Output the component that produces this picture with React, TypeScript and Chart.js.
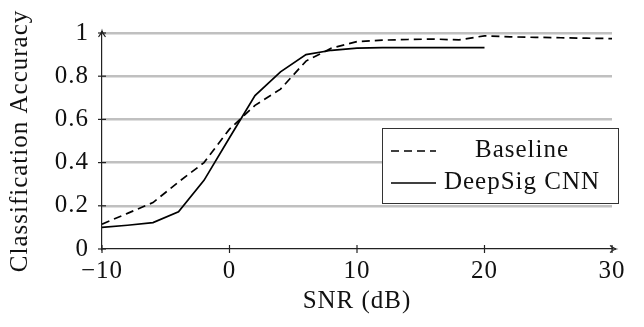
import React, { useEffect, useRef } from 'react';
import { Chart, registerables } from 'chart.js';

Chart.register(...registerables);

// ---- Data ----
const snrBaseline = [-10, -8, -6, -4, -2, 0, 2, 4, 6, 8, 10, 12, 14, 16, 18, 20, 22, 24, 26, 28, 30];
const accBaseline = [0.115, 0.165, 0.215, 0.31, 0.4, 0.555, 0.665, 0.74, 0.87, 0.93, 0.96, 0.967, 0.97, 0.972, 0.968, 0.987, 0.982, 0.98, 0.978, 0.976, 0.974];
const snrCnn = [-10, -8, -6, -4, -2, 0, 2, 4, 6, 8, 10, 12, 14, 16, 18, 20];
const accCnn = [0.1, 0.11, 0.122, 0.172, 0.318, 0.515, 0.71, 0.82, 0.9, 0.92, 0.93, 0.932, 0.932, 0.932, 0.932, 0.932];
const seriesLabels = ['Baseline', 'DeepSig CNN'];
const xTitle = 'SNR (dB)';
const yTitle = 'Classification Accuracy';
const xMin = -10, xMax = 30, xStep = 10;
const yMin = 0, yMax = 1, yStep = 0.2;

const FONT_FAMILY = '"Liberation Serif", "Times New Roman", serif';
const FONT_SIZE = 25;
const LETTER_SPACING = '1px';
const AXIS_COLOR = '#222';
const TEXT_COLOR = '#111';

const decorPlugin = {
  id: 'decor',
  beforeInit(chart: any) {
    (chart.ctx as any).letterSpacing = LETTER_SPACING;
  },
  beforeDraw(chart: any) {
    (chart.ctx as any).letterSpacing = LETTER_SPACING;
  },
  afterDatasetsDraw(chart: any) {
    const ctx = chart.ctx as CanvasRenderingContext2D;
    const xs = chart.scales.x;
    const ys = chart.scales.y;
    const ca = chart.chartArea;
    ctx.save();
    ctx.strokeStyle = AXIS_COLOR;
    ctx.fillStyle = AXIS_COLOR;
    ctx.lineWidth = 1.2;
    // tick marks crossing axes
    xs.ticks.forEach((t: any) => {
      const px = xs.getPixelForValue(t.value);
      ctx.beginPath();
      ctx.moveTo(px, ca.bottom - 4);
      ctx.lineTo(px, ca.bottom + 4);
      ctx.stroke();
    });
    ys.ticks.forEach((t: any) => {
      const py = ys.getPixelForValue(t.value);
      ctx.beginPath();
      ctx.moveTo(ca.left - 4, py);
      ctx.lineTo(ca.left + 4, py);
      ctx.stroke();
    });
    // axis extensions + arrowheads
    const tipX = ca.right + 4;
    ctx.beginPath();
    ctx.moveTo(ca.right, ca.bottom);
    ctx.lineTo(tipX, ca.bottom);
    ctx.stroke();
    ctx.beginPath();
    ctx.moveTo(tipX - 6, ca.bottom - 3.5);
    ctx.quadraticCurveTo(tipX - 2, ca.bottom - 0.5, tipX, ca.bottom);
    ctx.quadraticCurveTo(tipX - 2, ca.bottom + 0.5, tipX - 6, ca.bottom + 3.5);
    ctx.stroke();
    const tipY = ca.top - 2;
    ctx.beginPath();
    ctx.moveTo(ca.left, ca.top);
    ctx.lineTo(ca.left, tipY);
    ctx.stroke();
    ctx.beginPath();
    ctx.moveTo(ca.left - 3.5, tipY + 6);
    ctx.quadraticCurveTo(ca.left - 0.5, tipY + 2, ca.left, tipY);
    ctx.quadraticCurveTo(ca.left + 0.5, tipY + 2, ca.left + 3.5, tipY + 6);
    ctx.stroke();

    // legend
    const bx = 382, by = 128, bw = 236, bh = 75;
    ctx.fillStyle = '#fff';
    ctx.fillRect(bx, by, bw, bh);
    ctx.strokeStyle = '#333';
    ctx.lineWidth = 1;
    ctx.strokeRect(bx + 0.5, by + 0.5, bw, bh);
    const rows = [150, 182];
    ctx.font = FONT_SIZE + 'px ' + FONT_FAMILY;
    (ctx as any).letterSpacing = LETTER_SPACING;
    ctx.textAlign = 'center';
    ctx.textBaseline = 'middle';
    chart.data.datasets.forEach((ds: any, i: number) => {
      const y = rows[i];
      ctx.strokeStyle = '#000';
      ctx.lineWidth = 1.7;
      ctx.setLineDash(ds.borderDash || []);
      ctx.beginPath();
      ctx.moveTo(391, y + 1);
      ctx.lineTo(436, y + 1);
      ctx.stroke();
      ctx.setLineDash([]);
      ctx.fillStyle = TEXT_COLOR;
      ctx.fillText(ds.label, 522, y);
    });
    ctx.restore();
  },
};

export default function App() {
  const canvasRef = useRef<HTMLCanvasElement | null>(null);

  useEffect(() => {
    const canvas = canvasRef.current;
    if (!canvas) return;
    const font = { family: FONT_FAMILY, size: FONT_SIZE };
    const chart = new Chart(canvas, {
      type: 'line',
      data: {
        datasets: [
          {
            label: seriesLabels[0],
            data: snrBaseline.map((x, i) => ({ x, y: accBaseline[i] })),
            borderColor: '#000',
            borderWidth: 1.7,
            borderDash: [8, 5],
            pointRadius: 0,
            tension: 0,
            fill: false,
          },
          {
            label: seriesLabels[1],
            data: snrCnn.map((x, i) => ({ x, y: accCnn[i] })),
            borderColor: '#000',
            borderWidth: 1.7,
            pointRadius: 0,
            tension: 0,
            fill: false,
          },
        ],
      },
      options: {
        animation: false,
        responsive: false,
        devicePixelRatio: 1,
        layout: { padding: { top: 33, right: 32, left: 0, bottom: 0 } },
        plugins: { legend: { display: false }, tooltip: { enabled: false } },
        scales: {
          x: {
            type: 'linear',
            min: xMin,
            max: xMax,
            ticks: {
              stepSize: xStep,
              font,
              color: TEXT_COLOR,
              padding: 7,
              maxRotation: 0,
              callback: (v: any) => (v < 0 ? '\u2212' + Math.abs(v) : String(v)),
            },
            grid: { display: false, drawTicks: false },
            border: { display: true, color: AXIS_COLOR, width: 1.2 },
            title: { display: true, text: xTitle, font, color: TEXT_COLOR, padding: { top: 0, bottom: 11 } },
            afterFit: (s: any) => { s.height = 78; },
          },
          y: {
            type: 'linear',
            min: yMin,
            max: yMax,
            ticks: {
              stepSize: yStep,
              font,
              color: TEXT_COLOR,
              padding: 13,
              callback: (v: any) => String(Math.round(v * 10) / 10),
            },
            grid: {
              display: true,
              drawTicks: false,
              color: (c: any) => (c.tick && c.tick.value === 0 ? 'rgba(0,0,0,0)' : '#c0c0c0'),
              lineWidth: 2.5,
            },
            border: { display: true, color: AXIS_COLOR, width: 1.2 },
            title: { display: true, text: yTitle, font, color: TEXT_COLOR, padding: { top: 5, bottom: 0 } },
            afterFit: (s: any) => { s.width = 102; },
          },
        },
      },
      plugins: [decorPlugin],
    });
    return () => chart.destroy();
  }, []);

  return (
    <div style={{ position: 'fixed', left: 0, top: 0, width: 644, height: 327, background: '#fff' }}>
      <canvas ref={canvasRef} width={644} height={327} />
    </div>
  );
}
